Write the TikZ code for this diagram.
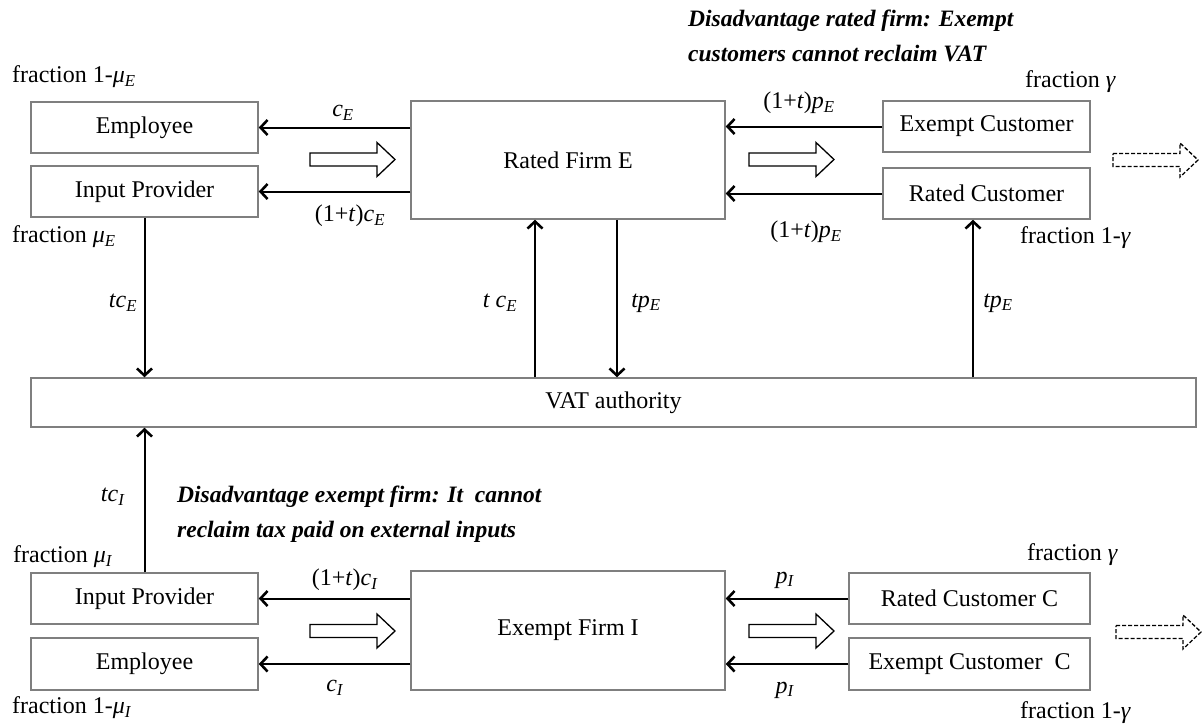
\documentclass[tikz,border=0pt]{standalone}
\usepackage{fontspec}
\setmainfont{Liberation Serif}
\usetikzlibrary{arrows.meta,calc}
\newcommand\mysb[1]{\textsubscript{\textit{#1}}}
\newcommand\myfs{\fontsize{24}{28}\selectfont}
\definecolor{boxgray}{HTML}{7F7F7F}
\begin{document}
\begin{tikzpicture}[x=1pt,y=-1pt,
  box/.style={draw=boxgray, line width=1.5pt, inner sep=0pt, font=\myfs},
  lbl/.style={inner sep=0pt, font=\myfs},
  note/.style={inner sep=0pt, font=\fontsize{23.5}{35}\selectfont\bfseries\itshape, align=left},
  arr/.style={line width=2pt, -{Straight Barb[length=7pt,width=15pt,line width=2.6pt]}},
  harrow/.pic={\draw[line width=1.3pt, pic actions] (0,-6.5) -- (67,-6.5) -- (67,-17) -- (85,0) -- (67,17) -- (67,6.5) -- (0,6.5) -- cycle;}
]
\useasboundingbox (0,0) rectangle (1204,726);

% ---------- top: rated firm ----------
\node[box, minimum width=227pt, minimum height=51pt] (emp1) at (144.5,127.5) {Employee};
\node[box, minimum width=227pt, minimum height=51pt] (ip1) at (144.5,191.5) {Input Provider};
\node[box, minimum width=314pt, minimum height=118pt] (firmE) at (568,160) {Rated Firm E};
\node[box, minimum width=207pt, minimum height=51pt] (exc1) at (986.5,126.5) {Exempt Customer};
\node[box, minimum width=207pt, minimum height=51pt] (ratc1) at (986.5,193.5) {Rated Customer};

% ---------- VAT authority ----------
\node[box, minimum width=1165pt, minimum height=49pt] (vat) at (613.5,402.5) {VAT authority};

% ---------- bottom: exempt firm ----------
\node[box, minimum width=227pt, minimum height=51pt] (ip2) at (144.5,598.5) {Input Provider};
\node[box, minimum width=227pt, minimum height=52pt] (emp2) at (144.5,664) {Employee};
\node[box, minimum width=314pt, minimum height=119pt] (firmI) at (568,630.5) {Exempt Firm I};
\node[box, minimum width=241pt, minimum height=51pt] (ratc2) at (969.5,598.5) {Rated Customer C};
\node[box, minimum width=241pt, minimum height=52pt] (exc2) at (969.5,664) {Exempt Customer~~C};

% ---------- horizontal arrows ----------
\draw[arr] (firmE.west |- emp1) -- (emp1.east);
\draw[arr] (firmE.west |- ip1) -- (ip1.east);
\draw[arr] (exc1.west) -- (firmE.east |- exc1);
\draw[arr] (ratc1.west) -- (firmE.east |- ratc1);
\draw[arr] (firmI.west |- ip2) -- (ip2.east);
\draw[arr] (firmI.west |- emp2) -- (emp2.east);
\draw[arr] (ratc2.west) -- (firmI.east |- ratc2);
\draw[arr] (exc2.west) -- (firmI.east |- exc2);

% ---------- vertical arrows ----------
\draw[arr] (ip1.south) -- (ip1.south |- vat.north);
\draw[arr] ([xshift=-33pt]firmE.south |- vat.north) -- ([xshift=-33pt]firmE.south);
\draw[arr] ([xshift=49pt]firmE.south) -- ([xshift=49pt]firmE.south |- vat.north);
\draw[arr] ([xshift=-13.5pt]ratc1.south |- vat.north) -- ([xshift=-13.5pt]ratc1.south);
\draw[arr] (ip2.north) -- (ip2.north |- vat.south);

% ---------- hollow block arrows ----------
\pic (h1) at (310,159.5) {harrow};
\pic (h2) at (749,159.5) {harrow};
\pic[dash pattern=on 4pt off 2pt] (h3) at (1113,160) {harrow};
\pic (h4) at (310,631) {harrow};
\pic (h5) at (749,631) {harrow};
\pic[dash pattern=on 4pt off 2pt] (h6) at (1116,632) {harrow};

% ---------- labels ----------
\node[lbl, anchor=west] (f1) at (12,77) {fraction 1-\textit{μ}\mysb{E}};
\node[lbl, anchor=west] (f2) at (12,237) {fraction \textit{μ}\mysb{E}};
\node[lbl] (l1) at (343,113) {\textit{c}\mysb{E}};
\node[lbl] (l2) at (350,216) {(1+\textit{t})\textit{c}\mysb{E}};
\node[lbl] (l3) at (123,303) {\textit{tc}\mysb{E}};
\node[lbl] (l4) at (500,303) {\textit{t c}\mysb{E}};
\node[lbl] (l5) at (646,303) {\textit{tp}\mysb{E}};
\node[lbl] (l6) at (998,303) {\textit{tp}\mysb{E}};
\node[lbl] (l7) at (799,103) {(1+\textit{t})\textit{p}\mysb{E}};
\node[lbl] (l8) at (806,232) {(1+\textit{t})\textit{p}\mysb{E}};
\node[lbl, anchor=west] (f3) at (1025,82) {fraction \textit{γ}};
\node[lbl, anchor=west] (f4) at (1020,238) {fraction 1-\textit{γ}};
\node[note, anchor=west] (n1) at (688,35.5) {Disadvantage rated firm: Exempt\\customers cannot reclaim VAT};

\node[note, anchor=west] (n2) at (177,514.5) {Disadvantage exempt firm: It~~cannot\\reclaim tax paid on external inputs};
\node[lbl] (l9) at (113,497) {\textit{tc}\mysb{I}};
\node[lbl, anchor=west] (f5) at (13,557) {fraction \textit{μ}\mysb{I}};
\node[lbl, anchor=west] (f6) at (12,708) {fraction 1-\textit{μ}\mysb{I}};
\node[lbl] (l10) at (345,580) {(1+\textit{t})\textit{c}\mysb{I}};
\node[lbl] (l11) at (335,688) {\textit{c}\mysb{I}};
\node[lbl] (l12) at (785,580) {\textit{p}\mysb{I}};
\node[lbl] (l13) at (785,690) {\textit{p}\mysb{I}};
\node[lbl, anchor=west] (f7) at (1027,555) {fraction \textit{γ}};
\node[lbl, anchor=west] (f8) at (1020,713) {fraction 1-\textit{γ}};
\end{tikzpicture}
\end{document}
